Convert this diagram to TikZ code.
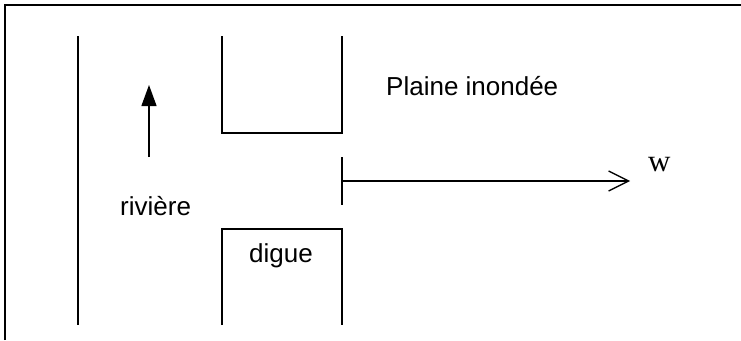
\documentclass[tikz,border=0pt]{standalone}
\usepackage{fontspec}
\setmainfont{Liberation Sans}
\newfontfamily\wfont{Liberation Serif}
\usetikzlibrary{arrows.meta}

\begin{document}
\begin{tikzpicture}[
      x=1pt, y=-1pt,
      wall/.style={line width=1.3pt},
      lbl/.style={inner sep=0pt, anchor=base west, font=\fontsize{26}{30}\selectfont},
      flow/.style={line width=1.3pt, -{Triangle[width=15pt, length=21pt]}},
      push/.style={line width=1.3pt, -{Straight Barb[width=20pt, length=20pt]}}
    ]
    \useasboundingbox (0,0) rectangle (741,340);
    \draw[line width=1.5pt] (5,340) -- (5,5) -- (741,5);

    % berge et digues
    \draw[wall] (78,36) -- (78,325);
    \draw[wall] (222,36) -- (222,133) -- (342,133) -- (342,36);
    \draw[wall] (222,325) -- (222,229) -- (342,229) -- (342,325);
    \draw[wall] (342,157) -- (342,205);

    \node[lbl] (plaine) at (386,95) {Plaine inondée};
    \node[lbl] (riviere) at (120,215) {rivière};
    \node[lbl] (digue) at (249,262) {digue};
    \node[lbl, font=\wfont\fontsize{31}{36}\selectfont] (w) at (648,171) {w};

    \coordinate (flowtail) at (149,157);
    \coordinate (flowhead) at (149,85);
    \coordinate (breach) at (342,181);
    \coordinate (wtip) at (630,181);

    \draw[flow] (flowtail) -- (flowhead);
    \draw[push] (breach) -- (wtip);
  \end{tikzpicture}
\end{document}
